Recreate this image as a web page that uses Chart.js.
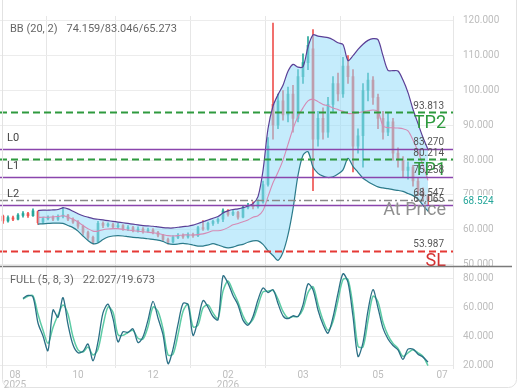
<!DOCTYPE html>
<html>
<head>
<meta charset="utf-8">
<script src="https://cdn.jsdelivr.net/npm/chart.js@4.4.1/dist/chart.umd.min.js"></script>
<style>
  html, body { margin: 0; padding: 0; background: #fff; }
  #wrap { width: 520px; height: 390px; }
</style>
</head>
<body>
<div id="wrap"><canvas id="myChart" width="520" height="390"></canvas></div>
<script>
// x axis: one unit per bar, month labels placed on bar positions
const tickPos = [2.4, 15, 30, 45, 60, 75, 87.8];
const tickLabels = [['08', '2025'], '10', '12', ['02', '2026'], '03', '05', '07'];
const priceTicks = [50, 60, 70, 80, 90, 100, 110, 120];
const oscTicks = [20, 40, 60, 80];

// daily candles
const opens = [
  63.9, 62.5, 63.4, 63.0, 64.1, 64.6, 64.0, 65.2, 62.2, 63.2,
  63.5, 63.0, 63.8, 64.2, 63.0, 62.2, 61.0, 59.2, 57.8, 56.6,
  61.8, 61.2, 61.5, 60.8, 61.2, 60.2, 60.6, 59.8, 60.2, 59.6,
  59.9, 59.2, 58.4, 57.2, 56.5, 57.8, 58.4, 57.9, 58.6, 58.3,
  60.6, 60.2, 61.8, 62.4, 63.0, 65.4, 64.4, 65.0, 63.6, 66.4,
  67.0, 66.6, 68.0, 73.0, 96.0, 90.0, 97.0, 93.0, 99.0, 92.0,
  104.0, 108.0, 112.0, 86.0, 92.0, 88.0, 96.0, 102.0, 99.0, 107.0,
  104.0, 84.0, 87.0, 100.0, 103.0, 98.0, 92.0, 88.0, 91.0, 82.0,
  80.0, 77.0, 78.0, 74.0, 71.0, 69.5
];
const closes = [
  62.5, 63.5, 63.0, 64.2, 64.6, 64.0, 65.4, 62.0, 63.2, 63.6,
  63.0, 63.8, 64.2, 63.0, 62.2, 61.0, 59.2, 57.8, 56.4, 61.8,
  61.2, 61.6, 60.8, 61.2, 60.2, 60.6, 59.8, 60.2, 59.6, 59.9,
  59.2, 58.4, 57.2, 56.4, 57.8, 58.4, 57.9, 58.6, 58.2, 60.6,
  60.2, 61.8, 62.4, 63.0, 65.4, 64.4, 65.0, 63.6, 66.4, 67.0,
  66.6, 68.0, 73.0, 84.0, 90.0, 97.0, 93.0, 99.0, 92.0, 104.0,
  108.0, 113.0, 86.0, 92.0, 88.0, 96.0, 102.0, 99.0, 107.0, 104.0,
  84.0, 87.0, 100.0, 103.0, 98.0, 92.0, 88.0, 91.0, 82.0, 80.0,
  77.0, 78.0, 74.0, 71.0, 69.5, 68.524
];
const highs = [
  64.2, 64.0, 63.9, 64.6, 65.2, 65.0, 66.0, 65.4, 63.6, 64.0,
  64.0, 64.3, 66.4, 64.4, 63.4, 62.6, 61.3, 59.6, 58.2, 62.4,
  62.3, 62.0, 61.9, 61.8, 61.5, 61.2, 61.0, 60.8, 60.6, 60.5,
  60.3, 59.5, 58.7, 57.6, 58.3, 58.9, 58.8, 59.1, 59.0, 61.0,
  62.6, 62.2, 62.8, 63.4, 66.0, 65.8, 65.6, 65.3, 67.0, 67.6,
  68.0, 68.6, 74.0, 86.5, 119.4, 99.0, 100.0, 101.0, 101.5, 106.0,
  110.5, 115.5, 117.5, 94.0, 95.0, 98.0, 104.0, 105.0, 109.5, 110.0,
  106.0, 89.0, 102.0, 105.0, 104.0, 99.0, 94.0, 93.5, 92.0, 83.5,
  81.0, 79.5, 78.5, 75.0, 72.0, 70.2
];
const lows = [
  61.8, 62.2, 62.6, 62.8, 63.6, 63.5, 63.8, 61.5, 61.8, 62.8,
  62.6, 62.7, 63.4, 62.6, 61.8, 60.4, 58.6, 57.2, 55.9, 56.3,
  60.6, 60.8, 60.3, 60.4, 59.8, 59.7, 59.4, 59.3, 59.0, 59.2,
  58.8, 57.9, 56.7, 55.9, 56.2, 57.4, 57.5, 57.6, 57.8, 58.0,
  59.8, 59.9, 61.2, 61.8, 62.3, 63.9, 64.0, 63.0, 63.4, 66.0,
  66.0, 66.2, 67.6, 72.5, 86.0, 89.0, 91.5, 91.0, 88.0, 91.0,
  102.0, 106.0, 71.2, 84.0, 86.0, 86.5, 94.0, 97.0, 98.0, 102.0,
  76.6, 82.0, 78.0, 97.0, 96.0, 89.0, 86.0, 87.0, 80.0, 78.0,
  75.0, 74.5, 72.5, 69.8, 68.2, 67.2
];

// Bollinger bands (20, 2), starting at bar bbStart
const bbStart = 7;
const bbUpper = [
  65.5, 65.6, 65.6, 65.7, 65.8, 66.3, 66.0, 65.3, 64.6, 64.0,
  63.6, 63.2, 63.0, 62.8, 62.6, 62.4, 62.2, 62.0, 61.8, 61.6,
  61.4, 61.2, 61.1, 61.0, 60.8, 60.6, 60.5, 60.5, 60.7, 60.9,
  61.0, 61.3, 61.8, 62.3, 62.8, 63.3, 63.8, 64.8, 65.4, 65.8,
  66.0, 66.3, 66.8, 67.5, 69.5, 77.0, 89.0, 95.5, 98.8, 101.5,
  105.5, 107.5, 106.7, 106.8, 112.5, 116.0, 115.6, 115.4, 115.2, 114.6,
  113.7, 113.2, 108.6, 110.0, 111.8, 113.3, 114.4, 114.9, 114.6, 110.0,
  105.8, 105.7, 105.6, 103.0, 99.4, 94.6, 90.5, 86.5, 83.046
];
const bbMid = [
  63.5, 63.6, 63.6, 63.7, 63.8, 64.0, 63.6, 63.0, 62.2, 61.2,
  60.3, 59.6, 59.6, 60.0, 60.2, 60.3, 60.3, 60.1, 59.9, 59.7,
  59.6, 59.4, 59.3, 59.1, 58.9, 58.6, 58.3, 58.2, 58.3, 58.5,
  58.5, 58.5, 58.6, 58.8, 59.2, 59.7, 59.7, 60.0, 60.6, 61.4,
  61.8, 62.3, 62.8, 63.6, 64.0, 65.5, 69.5, 73.5, 76.5, 80.0,
  84.5, 89.0, 92.5, 95.0, 97.0, 97.5, 96.8, 96.0, 95.6, 95.0,
  94.5, 94.0, 93.4, 93.4, 93.6, 93.9, 94.2, 94.4, 94.0, 89.8,
  89.3, 89.3, 89.2, 89.0, 88.4, 85.8, 82.5, 78.5, 74.159
];
const bbLower = [
  61.6, 61.7, 61.8, 61.9, 61.9, 61.8, 61.2, 60.6, 59.6, 58.2,
  56.9, 56.0, 56.2, 57.2, 57.9, 58.2, 58.3, 58.2, 58.0, 57.8,
  57.7, 57.6, 57.4, 57.2, 57.0, 56.6, 56.0, 55.8, 55.9, 56.1,
  55.9, 55.6, 55.3, 55.3, 55.6, 56.0, 55.6, 55.1, 54.8, 55.0,
  55.5, 55.8, 56.4, 56.8, 56.8, 55.8, 54.0, 52.6, 51.2, 53.5,
  58.5, 66.0, 75.6, 81.4, 82.4, 78.0, 76.2, 75.4, 75.0, 75.2,
  76.0, 77.2, 80.5, 78.2, 76.5, 74.8, 73.8, 73.0, 72.3, 72.0,
  71.8, 71.5, 71.3, 71.0, 70.4, 69.8, 68.8, 67.0, 65.273
];

// full stochastic (5, 8, 3), starting at bar stochStart
const stochStart = 4;
const stochK = [
  66.0, 68.0, 67.0, 49.0, 40.0, 30.0, 58.0, 53.0, 66.5, 48.0,
  34.0, 28.5, 29.5, 34.5, 23.0, 36.0, 56.0, 62.0, 52.0, 36.0,
  43.0, 42.5, 45.0, 35.5, 39.5, 51.0, 64.0, 52.5, 41.0, 21.0,
  31.0, 48.0, 62.5, 61.8, 40.5, 51.0, 64.5, 60.0, 53.5, 51.2,
  81.5, 76.5, 68.0, 61.5, 51.0, 47.5, 53.5, 65.0, 73.2, 70.0,
  72.0, 62.5, 54.0, 52.0, 54.0, 53.5, 61.5, 76.0, 72.0, 58.0,
  48.0, 42.0, 53.0, 69.5, 83.0, 77.0, 53.5, 26.0, 35.5, 57.5,
  72.0, 59.5, 45.5, 38.0, 33.5, 30.5, 24.0, 31.0, 31.0, 27.5,
  25.5, 22.027
];
const stochD = [
  65.5, 67.5, 67.8, 55.0, 44.0, 35.0, 46.0, 54.5, 61.5, 55.0,
  39.5, 30.5, 29.0, 32.5, 27.0, 31.0, 47.0, 60.0, 56.5, 41.0,
  40.5, 42.5, 44.0, 38.5, 38.0, 46.5, 60.0, 57.0, 45.0, 27.0,
  27.5, 41.0, 57.0, 62.0, 46.5, 47.5, 59.5, 61.5, 56.0, 52.0,
  71.0, 78.0, 71.0, 63.5, 54.0, 48.5, 51.5, 61.0, 70.5, 71.0,
  71.5, 65.5, 57.0, 52.5, 53.5, 53.5, 58.5, 70.0, 74.0, 62.0,
  51.0, 44.0, 50.0, 64.5, 79.0, 79.0, 60.0, 33.0, 32.5, 50.5,
  67.5, 63.5, 49.5, 40.5, 35.0, 31.5, 26.0, 28.5, 30.5, 28.5,
  26.0, 19.673
];

// trade levels
const levelValues = [93.813, 83.270, 80.214, 75.258, 68.547, 67.065, 53.987];
const levelNames = ['', 'L0', '', 'L1', '', 'L2', ''];
const levelTags = ['TP2', '', 'TP1', '', 'At Price', '', 'SL'];

const GREEN = '#2e9a3e', PURPLE = '#8a45ad', RED = '#e53935';
const levelStyle = [
  { color: GREEN, dash: [7, 4], width: 2 },
  { color: PURPLE, dash: [], width: 1.5 },
  { color: GREEN, dash: [7, 4], width: 2 },
  { color: PURPLE, dash: [], width: 1.5 },
  { color: '#8a8a8a', dash: [8, 3, 2, 3], width: 1.5 },
  { color: PURPLE, dash: [], width: 1.5 },
  { color: RED, dash: [7, 4], width: 2 }
];
const tagColor = { 'TP2': GREEN, 'TP1': GREEN, 'At Price': '#8f8f8f', 'SL': '#d32f2f' };

const UP = '#26a69a', DOWN = '#ef5350';
const candleColor = ctx => closes[ctx.dataIndex] >= opens[ctx.dataIndex] ? UP : DOWN;
const pts = (arr, start) => arr.map((v, k) => ({ x: k + start, y: v }));

Chart.defaults.font.family = 'Roboto';

// name + values, with a small gap like the original legend
function legendText(ctx, name, values, x, y) {
  ctx.fillText(name, x, y);
  ctx.fillText(values, x + ctx.measureText(name).width + 9, y);
}

const overlay = {
  id: 'overlay',
  beforeDraw(chart) {
    const ctx = chart.ctx;
    ctx.save();
    ctx.fillStyle = '#fff';
    ctx.fillRect(0, 0, chart.width, chart.height);
    ctx.restore();
  },
  afterDatasetsDraw(chart) {
    const { ctx, chartArea: a } = chart;
    const y = chart.scales.y;
    ctx.save();
    ctx.beginPath();
    ctx.rect(a.left, y.top, a.right - a.left, y.bottom - y.top);
    ctx.clip();
    levelValues.forEach((v, i) => {
      const py = Math.round(y.getPixelForValue(v)) + 0.5;
      const st = levelStyle[i];
      ctx.strokeStyle = st.color;
      ctx.lineWidth = st.width;
      ctx.setLineDash(st.dash);
      ctx.beginPath();
      ctx.moveTo(a.left, py);
      ctx.lineTo(a.right, py);
      ctx.stroke();
    });
    ctx.setLineDash([]);
    levelValues.forEach((v, i) => {
      const py = y.getPixelForValue(v);
      ctx.font = '10px Roboto';
      ctx.fillStyle = '#555';
      ctx.textAlign = 'right';
      ctx.textBaseline = 'bottom';
      ctx.fillText(v.toFixed(3), a.right - 9, py - 1);
      if (levelNames[i]) {
        ctx.font = '11px Roboto';
        ctx.fillStyle = '#444';
        ctx.textAlign = 'left';
        ctx.fillText(levelNames[i], 7, py - 5);
      }
      if (levelTags[i]) {
        ctx.font = '18px Roboto';
        ctx.fillStyle = tagColor[levelTags[i]];
        ctx.textAlign = 'right';
        ctx.textBaseline = 'top';
        ctx.fillText(levelTags[i], a.right - 7, py + 2);
      }
    });
    ctx.restore();
  },
  afterDraw(chart) {
    const { ctx, chartArea: a } = chart;
    const y = chart.scales.y, y2 = chart.scales.y2;
    ctx.save();
    // panel divider
    ctx.strokeStyle = '#7a7a7a';
    ctx.lineWidth = 1.5;
    ctx.beginPath();
    ctx.moveTo(0, y.bottom);
    ctx.lineTo(512, y.bottom);
    ctx.stroke();
    // indicator legends
    ctx.font = '11px Roboto';
    ctx.fillStyle = '#666';
    ctx.textAlign = 'left';
    ctx.textBaseline = 'middle';
    legendText(ctx, 'BB (20, 2)',
      bbMid.at(-1).toFixed(3) + '/' + bbUpper.at(-1).toFixed(3) + '/' + bbLower.at(-1).toFixed(3),
      10, y.top + 13);
    legendText(ctx, 'FULL (5, 8, 3)',
      stochK.at(-1).toFixed(3) + '/' + stochD.at(-1).toFixed(3),
      10, y2.top + 14);
    // last price tag
    const last = closes.at(-1);
    const py = y.getPixelForValue(last);
    ctx.fillStyle = '#fff';
    ctx.fillRect(a.right + 2, py - 5, 56, 11);
    ctx.font = '10px Roboto';
    ctx.fillStyle = '#26a69a';
    ctx.fillText(last.toFixed(3), a.right + 10, py + 1);
    // frame
    ctx.strokeStyle = '#e2e2e2';
    ctx.lineWidth = 1;
    ctx.beginPath();
    ctx.roundRect(2.5, -20, 514, 407.5, 8);
    ctx.stroke();
    ctx.restore();
  }
};

const config = {
  type: 'bar',
  data: {
    datasets: [
      {
        type: 'line', label: 'BB upper', data: pts(bbUpper, bbStart),
        borderColor: '#5b3f96', borderWidth: 1.2, pointRadius: 0, tension: 0.3,
        fill: 2, backgroundColor: 'rgba(150, 220, 250, 0.55)', order: 3
      },
      {
        type: 'line', label: 'BB mid', data: pts(bbMid, bbStart),
        borderColor: '#d58ab4', borderWidth: 1.1, pointRadius: 0, tension: 0.3, order: 2
      },
      {
        type: 'line', label: 'BB lower', data: pts(bbLower, bbStart),
        borderColor: '#2b7a8a', borderWidth: 1.2, pointRadius: 0, tension: 0.3, order: 2
      },
      {
        label: 'body', data: opens.map((o, i) => ({ x: i, y: [o, closes[i]] })),
        backgroundColor: candleColor, barThickness: 2, grouped: false, order: 5
      },
      {
        label: 'wick', data: lows.map((l, i) => ({ x: i, y: [l, highs[i]] })),
        backgroundColor: candleColor, barThickness: 1, grouped: false, order: 6
      },
      {
        type: 'line', label: '%D', data: pts(stochD, stochStart), yAxisID: 'y2',
        borderColor: '#5ccba4', borderWidth: 1.5, pointRadius: 0, tension: 0.3, order: 1
      },
      {
        type: 'line', label: '%K', data: pts(stochK, stochStart), yAxisID: 'y2',
        borderColor: '#2a6f85', borderWidth: 1.3, pointRadius: 0, tension: 0.3, order: 0
      }
    ]
  },
  options: {
    responsive: false,
    animation: false,
    layout: { padding: 0 },
    plugins: { legend: { display: false }, tooltip: { enabled: false } },
    scales: {
      x: {
        type: 'linear', min: -0.6, max: 90, offset: false,
        afterBuildTicks: s => { s.ticks = tickPos.map(v => ({ value: v })); },
        afterFit: s => { s.height = 22; },
        ticks: {
          callback: (v, i) => tickLabels[i], autoSkip: false, maxRotation: 0,
          color: '#bdbdbd', font: { size: 10, lineHeight: 1 }, padding: 2
        },
        grid: {
          color: c => (c.index === 0 || c.index === tickPos.length - 1) ? 'rgba(0,0,0,0)' : '#e6e6e6',
          drawTicks: false
        },
        border: { display: false }
      },
      y: {
        position: 'right', stack: 'panes', stackWeight: 262,
        min: 49.4, max: 121.4,
        afterBuildTicks: s => { s.ticks = priceTicks.map(v => ({ value: v })); },
        afterFit: s => { s.width = 67; },
        ticks: { callback: v => v.toFixed(3), color: '#bdbdbd', font: { size: 10 }, padding: 10 },
        grid: { color: '#ececec', drawTicks: false },
        border: { color: '#e6e6e6' }
      },
      y2: {
        position: 'right', stack: 'panes', stackWeight: 106,
        min: 18, max: 87.9,
        afterBuildTicks: s => { s.ticks = oscTicks.map(v => ({ value: v })); },
        afterFit: s => { s.width = 67; },
        ticks: { callback: v => v.toFixed(3), color: '#bdbdbd', font: { size: 10 }, padding: 10 },
        grid: { color: '#ececec', drawTicks: false },
        border: { color: '#e6e6e6' }
      }
    }
  },
  plugins: [overlay]
};

const myChart = new Chart(document.getElementById('myChart'), config);
</script>
</body>
</html>
